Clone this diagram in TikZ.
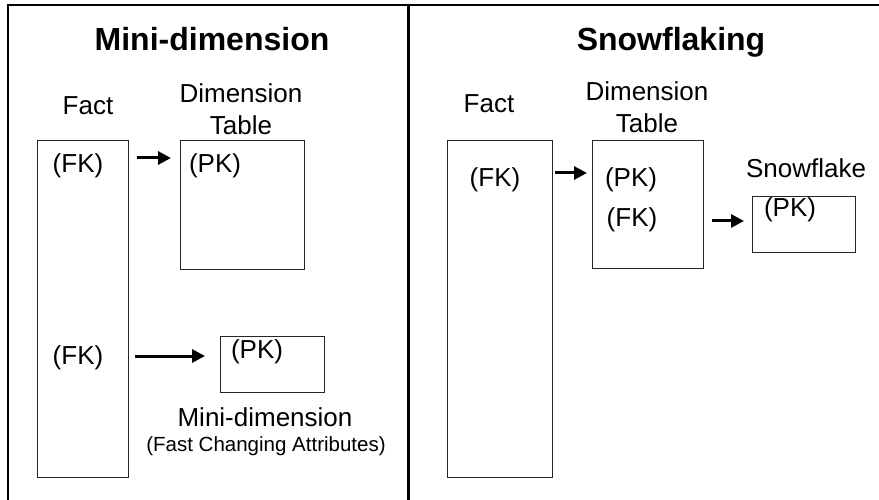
\documentclass[tikz,border=0pt]{standalone}
\usepackage{fontspec}
\setmainfont{Liberation Sans}
\usetikzlibrary{arrows.meta}
\tikzset{
  tbl/.style={draw=black!85, line width=1pt, rectangle, inner sep=0pt, outer sep=0pt},
  lbl/.style={font=\fontsize{26}{32}\selectfont, inner sep=0pt, align=center},
  ttl/.style={font=\fontsize{32}{38}\selectfont\bfseries, inner sep=0pt, anchor=base},
  small/.style={font=\fontsize{20.5}{24}\selectfont, inner sep=0pt},
  arr/.style={line width=3pt, -{Triangle[length=13pt,width=13pt]}},
  frame/.style={line width=1.5pt, black}
}
\begin{document}
\begin{tikzpicture}[x=1pt,y=-1pt]
\useasboundingbox (0,0) rectangle (879,500);
% frame
\coordinate (tl) at (8,5);
\coordinate (tr) at (879,5);
\coordinate (bl) at (8,500);
\coordinate (dt) at (408,4);
\coordinate (db) at (408,500);
\draw[frame] (tr) -- (tl) -- (bl);
\draw[line width=3pt] (dt) -- (db);

% ===== left panel =====
\node[ttl] (t1) at (212,51) {Mini-dimension};
\node[lbl, anchor=base] (factLlbl) at (88,115) {Fact};
\node[lbl] (dimLlbl) at (241,109) {Dimension\\Table};
\node[tbl, minimum width=91, minimum height=336] (factL) at (82.5,309) {};
\node[tbl, minimum width=124, minimum height=128] (dimL) at (242,205) {};
\node[tbl, minimum width=104, minimum height=56] (miniL) at (272,364) {};
\node[lbl] (fk1) at (78,166) {(FK)};
\node[lbl] (pk1) at (215,166) {(PK)};
\node[lbl] (fk2) at (78,358) {(FK)};
\node[lbl] (pk2) at (257,352) {(PK)};
\node[lbl] (miniLlbl) at (265,417) {Mini-dimension};
\node[small] (fastlbl) at (266,446) {(Fast Changing Attributes)};
\draw[arr, shorten <=9pt, shorten >=9pt] ([yshift=8pt]fk1.center -| factL.east) -- ([yshift=8pt]fk1.center -| dimL.west);
\draw[arr, shorten <=7pt, shorten >=15pt] ([yshift=2pt]fk2.center -| factL.east) -- ([yshift=2pt]fk2.center -| miniL.west);

% ===== right panel =====
\node[ttl] (t2) at (671,51) {Snowflaking};
\node[lbl, anchor=base] (factRlbl) at (489,113) {Fact};
\node[lbl] (dimRlbl) at (647,107) {Dimension\\Table};
\node[lbl] (snowlbl) at (806,168) {Snowflake};
\node[tbl, minimum width=105, minimum height=336] (factR) at (499.5,309) {};
\node[tbl, minimum width=111, minimum height=127] (dimR) at (647.5,204.5) {};
\node[tbl, minimum width=103, minimum height=55] (snowR) at (803.5,224.5) {};
\node[lbl] (fk3) at (495,180) {(FK)};
\node[lbl] (pk3) at (631,180) {(PK)};
\node[lbl] (fk4) at (632,220) {(FK)};
\node[lbl] (pk4) at (790,210) {(PK)};
\draw[arr, shorten <=3pt, shorten >=5pt] ([yshift=7pt]fk3.center -| factR.east) -- ([yshift=7pt]fk3.center -| dimR.west);
\draw[arr, shorten <=9pt, shorten >=8pt] ([yshift=-1pt]fk4.center -| dimR.east) -- ([yshift=-1pt]fk4.center -| snowR.west);
\end{tikzpicture}
\end{document}
